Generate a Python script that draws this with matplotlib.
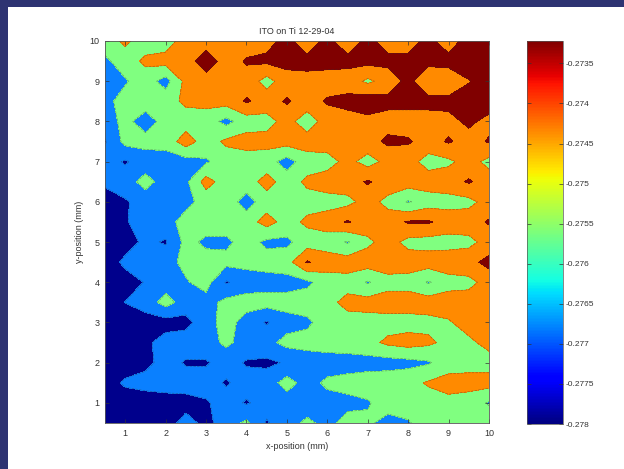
import numpy as np
import matplotlib
matplotlib.use('Agg')
import matplotlib.pyplot as plt
from matplotlib.colors import Normalize
from matplotlib.patches import Rectangle
from matplotlib.ticker import FuncFormatter
import matplotlib.cm as cm

# grid positions (mm)
x_pos = [0.5, 1.0, 1.5, 2.0, 2.5, 3.0, 3.5, 4.0, 4.5, 5.0,
         5.5, 6.0, 6.5, 7.0, 7.5, 8.0, 8.5, 9.0, 9.5, 10.0]
y_pos = [0.5, 1.0, 1.5, 2.0, 2.5, 3.0, 3.5, 4.0, 4.5, 5.0,
         5.5, 6.0, 6.5, 7.0, 7.5, 8.0, 8.5, 9.0, 9.5, 10.0]

# measured values, one row per y-position (x from 0.5 to 10)
z_y0_5 = [-0.2780, -0.2778, -0.2777, -0.2775, -0.2766, -0.2773, -0.2765, -0.2758, -0.2771, -0.2764,
          -0.2758, -0.2763, -0.2756, -0.2758, -0.2764, -0.2761, -0.2755, -0.2754, -0.2754, -0.2754]
z_y1_0 = [-0.2778, -0.2777, -0.2776, -0.2775, -0.2774, -0.2771, -0.2766, -0.2771, -0.2766, -0.2765,
          -0.2765, -0.2764, -0.2763, -0.2761, -0.2755, -0.2755, -0.2754, -0.2753, -0.2755, -0.2761]
z_y1_5 = [-0.2776, -0.2768, -0.2766, -0.2765, -0.2765, -0.2766, -0.2771, -0.2766, -0.2765, -0.2756,
          -0.2764, -0.2758, -0.2756, -0.2755, -0.2754, -0.2753, -0.2749, -0.2746, -0.2746, -0.2746]
z_y2_0 = [-0.2778, -0.2777, -0.2773, -0.2766, -0.2771, -0.2771, -0.2766, -0.2771, -0.2772, -0.2769,
          -0.2766, -0.2765, -0.2765, -0.2764, -0.2764, -0.2763, -0.2761, -0.2755, -0.2754, -0.2754]
z_y2_5 = [-0.2777, -0.2776, -0.2772, -0.2766, -0.2765, -0.2764, -0.2758, -0.2764, -0.2763, -0.2757,
          -0.2756, -0.2755, -0.2754, -0.2753, -0.2748, -0.2746, -0.2748, -0.2753, -0.2752, -0.2747]
z_y3_0 = [-0.2777, -0.2776, -0.2774, -0.2774, -0.2773, -0.2764, -0.2756, -0.2764, -0.2771, -0.2764,
          -0.2762, -0.2755, -0.2754, -0.2754, -0.2754, -0.2754, -0.2753, -0.2751, -0.2746, -0.2745]
z_y3_5 = [-0.2776, -0.27698, -0.2766, -0.2756, -0.2765, -0.2764, -0.2757, -0.2756, -0.2756, -0.2756,
          -0.2755, -0.2753, -0.2747, -0.2746, -0.2745, -0.2745, -0.2745, -0.2745, -0.2745, -0.2745]
z_y4_0 = [-0.2776, -0.2774, -0.27695, -0.2765, -0.2761, -0.2756, -0.2771, -0.2765, -0.2764, -0.2764,
          -0.2762, -0.2755, -0.2754, -0.2761, -0.2754, -0.2754, -0.2761, -0.2754, -0.2753, -0.2746]
z_y4_5 = [-0.2775, -0.2768, -0.2765, -0.2764, -0.2757, -0.2756, -0.2757, -0.2757, -0.2756, -0.2754,
          -0.2739, -0.2745, -0.2745, -0.2745, -0.2744, -0.2745, -0.2745, -0.2744, -0.2743, -0.2737]
z_y5_0 = [-0.2776, -0.2774, -0.2768, -0.2771, -0.2757, -0.2762, -0.2762, -0.2756, -0.2762, -0.2762,
          -0.2755, -0.2755, -0.2761, -0.2752, -0.2746, -0.2753, -0.2754, -0.2754, -0.2753, -0.2746]
z_y5_5 = [-0.2776, -0.2771, -0.2765, -0.2764, -0.2756, -0.2755, -0.2755, -0.2755, -0.2746, -0.2754,
          -0.2748, -0.2745, -0.2739, -0.2745, -0.2745, -0.2739, -0.2739, -0.2744, -0.2744, -0.2739]
z_y6_0 = [-0.2775, -0.2771, -0.2766, -0.2765, -0.2763, -0.2756, -0.2755, -0.2764, -0.2755, -0.2754,
          -0.2754, -0.2754, -0.2753, -0.2746, -0.2753, -0.2761, -0.2755, -0.2754, -0.2753, -0.2746]
z_y6_5 = [-0.2768, -0.2765, -0.2756, -0.2765, -0.2762, -0.2746, -0.2755, -0.2755, -0.2746, -0.2755,
          -0.2748, -0.2745, -0.2744, -0.2739, -0.2744, -0.2745, -0.2745, -0.2744, -0.2739, -0.2745]
z_y7_0 = [-0.2766, -0.2771, -0.2766, -0.2765, -0.2764, -0.2761, -0.2756, -0.2755, -0.2756, -0.2764,
          -0.2755, -0.2754, -0.2747, -0.2754, -0.2747, -0.2746, -0.2754, -0.2752, -0.2746, -0.2753]
z_y7_5 = [-0.2771, -0.2757, -0.2756, -0.2756, -0.2745, -0.2755, -0.2748, -0.2746, -0.2746, -0.2746,
          -0.2745, -0.2745, -0.2744, -0.2744, -0.2738, -0.2739, -0.2744, -0.2739, -0.2744, -0.2739]
z_y8_0 = [-0.2765, -0.2757, -0.2765, -0.2756, -0.2755, -0.2755, -0.2763, -0.2755, -0.2754, -0.2746,
          -0.2756, -0.2745, -0.2744, -0.2743, -0.2744, -0.2744, -0.2744, -0.2743, -0.2738, -0.2743]
z_y8_5 = [-0.2763, -0.2756, -0.2755, -0.2754, -0.2748, -0.2747, -0.2746, -0.2739, -0.2744, -0.2739,
          -0.2744, -0.2739, -0.2737, -0.2734, -0.2737, -0.2737, -0.2737, -0.2737, -0.2736, -0.2735]
z_y9_0 = [-0.2765, -0.2761, -0.2755, -0.2764, -0.2747, -0.2745, -0.2745, -0.2744, -0.2754, -0.2744,
          -0.2743, -0.2744, -0.2745, -0.2752, -0.2746, -0.2737, -0.2748, -0.2748, -0.27405, -0.2735]
z_y9_5 = [-0.2762, -0.2755, -0.2748, -0.2746, -0.2745, -0.2734, -0.2745, -0.2739, -0.2738, -0.2737,
          -0.2737, -0.2737, -0.2737, -0.2737, -0.2737, -0.2737, -0.2737, -0.2736, -0.2735, -0.27322]
z_y10_0 = [-0.2755, -0.2748, -0.2755, -0.2755, -0.2745, -0.2745, -0.2745, -0.2745, -0.2743, -0.2737,
           -0.2746, -0.2737, -0.2746, -0.2737, -0.2745, -0.2745, -0.2737, -0.2746, -0.2735, -0.2735]

z_rows = [z_y0_5, z_y1_0, z_y1_5, z_y2_0, z_y2_5, z_y3_0, z_y3_5, z_y4_0, z_y4_5, z_y5_0,
          z_y5_5, z_y6_0, z_y6_5, z_y7_0, z_y7_5, z_y8_0, z_y8_5, z_y9_0, z_y9_5, z_y10_0]

contour_levels = [-0.2790, -0.2770, -0.2760, -0.2750, -0.2740, -0.2720]
band_colors = ['#00008c', '#0a80ff', '#80ff80', '#ff8a00', '#800000']
cbar_ticks = [-0.278, -0.2775, -0.277, -0.2765, -0.276, -0.2755, -0.275, -0.2745, -0.274, -0.2735]
cbar_range = (-0.278, -0.27322)
x_ticks = [1, 2, 3, 4, 5, 6, 7, 8, 9, 10]
y_ticks = [1, 2, 3, 4, 5, 6, 7, 8, 9, 10]

plt.rcParams['font.family'] = ['Liberation Sans', 'DejaVu Sans']

W, H = 624, 469
fig = plt.figure(figsize=(W / 100, H / 100), dpi=100)
fig.patch.set_facecolor('#2e3372')
fig.add_artist(Rectangle((8 / W, 0), 1, 1 - 7 / H, transform=fig.transFigure,
                         facecolor='white', edgecolor='none', zorder=-1))

ax = fig.add_axes([105 / W, 1 - 423 / H, 384 / W, 382 / H])
Z = np.array(z_rows)
ax.contourf(x_pos, y_pos, Z, levels=contour_levels, colors=band_colors)
ax.contour(x_pos, y_pos, Z, levels=contour_levels[1:-1], colors='#333333',
           linewidths=0.5, alpha=0.45)
ax.set_xlim(0.5, 10)
ax.set_ylim(0.5, 10)
ax.set_xticks(x_ticks)
ax.set_yticks(y_ticks)
ax.tick_params(direction='in', length=3, width=0.5, top=True, right=True,
               labelsize=6.5, colors='#333333', pad=4)
for s in ax.spines.values():
    s.set_linewidth(0.6)
    s.set_color('#555555')
ax.set_xlabel('x-position (mm)', fontsize=6.5, color='#333333', labelpad=3)
ax.set_ylabel('y-position (mm)', fontsize=6.5, color='#333333', labelpad=4)
ax.set_title('ITO on Ti 12-29-04', fontsize=6.5, color='#333333', pad=5)

cax = fig.add_axes([527 / W, 1 - 424 / H, 36 / W, 383 / H])
sm = cm.ScalarMappable(norm=Normalize(*cbar_range), cmap='jet')
cb = fig.colorbar(sm, cax=cax, ticks=cbar_ticks)
cb.ax.yaxis.set_major_formatter(FuncFormatter(lambda v, p: f'{v:g}'))
cb.ax.tick_params(direction='in', length=3, width=0.5, left=True, right=True,
                  labelsize=6, colors='#333333', pad=2)
cb.outline.set_linewidth(0.5)
cb.outline.set_edgecolor('#555555')

fig.savefig('out.png', dpi=100, facecolor=fig.get_facecolor())
